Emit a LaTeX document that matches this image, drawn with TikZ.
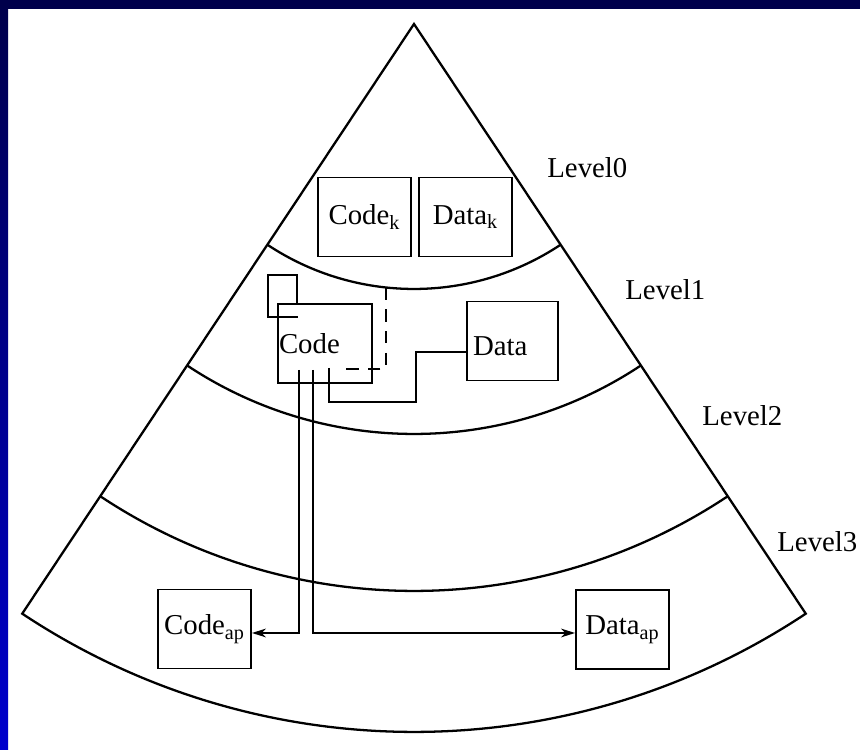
\documentclass[tikz,border=0pt]{standalone}
\usepackage{fontspec}
\setmainfont{Liberation Serif}
\usetikzlibrary{arrows.meta,calc}
\definecolor{navytop}{RGB}{0,0,75}
\definecolor{navymid}{RGB}{0,0,175}
\definecolor{navybot}{RGB}{0,0,205}
\begin{document}
\begin{tikzpicture}[x=0.02cm, y=0.02cm, font=\fontsize{16.4}{20}\selectfont,
  box/.style={draw, line width=1.1pt, minimum width=1.86cm, minimum height=1.58cm, inner sep=0pt},
  lvl/.style={anchor=base west, inner sep=0pt},
  fan/.style={line width=1.3pt},
  wire/.style={line width=1pt},
  >={Stealth[length=8pt, width=5pt, inset=2.5pt]}]
\useasboundingbox (0,0) rectangle (860,750);
\fill[white] (0,0) rectangle (860,750);
\shade[top color=navytop, middle color=navymid, bottom color=navybot] (0,0) rectangle (8,750);
\fill[navytop] (0,741) rectangle (860,750);
\coordinate (apex) at (414,726);
\draw[fan] (apex) -- ++(236.4:708) arc[start angle=236.4, end angle=303.6, radius=708] -- cycle;
\foreach \rad in {265,410,567}
  \draw[fan] (apex) ++(236.4:\rad) arc[start angle=236.4, end angle=303.6, radius=\rad];
\node[lvl] (lvl0) at (547,572) {Level0};
\node[lvl] (lvl1) at (625,450) {Level1};
\node[lvl] (lvl2) at (702,324) {Level2};
\node[lvl] (lvl3) at (777,198) {Level3};
\node[box] (codek) at (364.5,533) {Code\textsubscript{k}};
\node[box] (datak) at (465.5,533) {Data\textsubscript{k}};
\node[box, text width=1.84cm, inner xsep=0.02cm, align=left] (code) at (325,406.5) {Code};
\node[box, minimum width=1.82cm, text width=1.58cm, inner xsep=0.12cm, align=left,
  text height=16pt, text depth=0pt] (data) at (512.5,409) {Data};
\node[box] (codeap) at (204.5,121) {Code\textsubscript{ap}};
\node[box] (dataap) at (622.5,120.5) {Data\textsubscript{ap}};
\draw[wire] ($(code.north west)+(20,0)$) -- ++(0,28) -- ++(-29,0) -- ++(0,-42) -- ++(30,0);
\coordinate (dash0) at (386,462.5);
\coordinate (dash1) at (345,381);
\draw[wire, dash pattern=on 7pt off 5.4pt] (dash0) |- (dash1);
\coordinate (cd0) at (329,382);
\coordinate (cd1) at (416,348);
\draw[wire] (cd0) |- (cd1) |- ($(data.west)+(0,-11)$);
\coordinate (ca0) at (299,380);
\draw[wire, ->] (ca0) |- ($(codeap.east)+(0,-4)$);
\coordinate (da0) at (313,380);
\draw[wire, ->] (da0) |- ($(dataap.west)+(0,-3.5)$);
\end{tikzpicture}
\end{document}
